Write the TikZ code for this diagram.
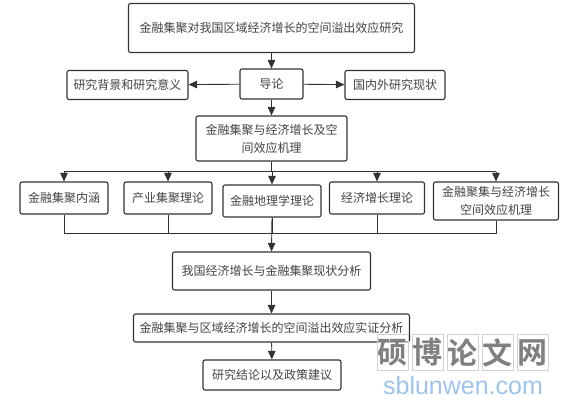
\documentclass[tikz,border=0pt]{standalone}
\usepackage{fontspec}
\setmainfont{Noto Sans CJK SC}
\newfontfamily\wmfont[BoldFont={Noto Sans CJK SC Bold}]{Noto Sans CJK SC}
\newfontfamily\latinwm{Liberation Sans}
\usetikzlibrary{arrows.meta}
\definecolor{ink}{HTML}{333333}
\definecolor{txt}{HTML}{444444}
\definecolor{wm}{HTML}{808080}
\definecolor{wmgrid}{HTML}{D2D2D2}
\definecolor{wmblue}{HTML}{9CC4EE}
\tikzset{
  x=1pt,y=-1pt,
  bx/.style n args={2}{draw=ink,line width=1.1pt,rounded corners=2pt,fill=white,inner sep=0pt,
     minimum width=#1 pt,minimum height=#2 pt,align=center,text=txt,font=\fontsize{12}{18}\selectfont},
  ln/.style={draw=ink,line width=0.9pt},
  bus/.style={draw=ink,line width=1.3pt},
  ar/.style={ln,-{Triangle[length=8.5pt,width=7.5pt]}},
  wmcell/.style={draw=wmgrid,line width=0.6pt,fill=white,fill opacity=0.5,text opacity=1,minimum width=31pt,minimum height=36pt,inner sep=0pt,text=wm,font=\wmfont\bfseries\fontsize{30}{30}\selectfont},
}
\begin{document}
\begin{tikzpicture}
\useasboundingbox (0,0) rectangle (566,405);
\fill[white] (0,0) rectangle (566,405);
\node[bx={286}{49}] (top) at (271.5,28) {金融集聚对我国区域经济增长的空间溢出效应研究};
\node[bx={63}{30}] (intro) at (271.5,84) {导论};
\node[bx={121}{29}] (bg) at (127.5,85) {研究背景和研究意义};
\node[bx={100}{29}] (lit) at (395,85) {国内外研究现状};
\node[bx={151}{45}] (mech) at (271.5,138.5) {金融集聚与经济增长及空\\间效应机理};
\node[bx={88}{32}] (b1) at (64,198) {金融集聚内涵};
\node[bx={88}{32}] (b2) at (168,198) {产业集聚理论};
\node[bx={98}{32}] (b3) at (272,201) {金融地理学理论};
\node[bx={95}{32}] (b4) at (377,198) {经济增长理论};
\node[bx={125}{38}] (b5) at (496,201) {金融聚集与经济增长\\空间效应机理};
\node[bx={198}{38}] (now) at (271.5,271) {我国经济增长与金融集聚现状分析};
\node[bx={276}{28}] (emp) at (271.5,328) {金融集聚与区域经济增长的空间溢出效应实证分析};
\node[bx={138}{30}] (end) at (272,375) {研究结论以及政策建议};

\coordinate (tbus) at (271.5,171.5);
\coordinate (bbus) at (271.5,233.5);
\draw[ar] (top) -- (intro);
\draw[ar] (intro) -- (bg);
\draw[ar] (intro) -- (lit);
\draw[ar] (intro) -- (mech);
\draw[ln] (mech.south) -- (tbus);
\draw[bus] (tbus-|b1) -- (tbus-|b5);
\foreach \n in {b1,b2,b3,b4,b5}{
  \draw[ar] (tbus-|\n) -- (\n.north);
  \draw[ln] (\n.south) -- (bbus-|\n);
}
\draw[bus] (bbus-|b1) -- (bbus-|b5);
\draw[ar] (b3.south) -- (now.north);
\draw[ar] (now) -- (emp);
\draw[ar] (emp) -- (end);

\node[wmcell] (w1) at (392.5,352.5) {硕};
\node[wmcell] (w2) at (427.5,352.5) {博};
\node[wmcell] (w3) at (462.5,352.5) {论};
\node[wmcell] (w4) at (497.5,352.5) {文};
\node[wmcell] (w5) at (532.5,352.5) {网};
\node[text=wmblue,inner sep=0pt,font=\latinwm\fontsize{25}{25}\selectfont] (url) at (463,386) {sblunwen.com};
\end{tikzpicture}
\end{document}
